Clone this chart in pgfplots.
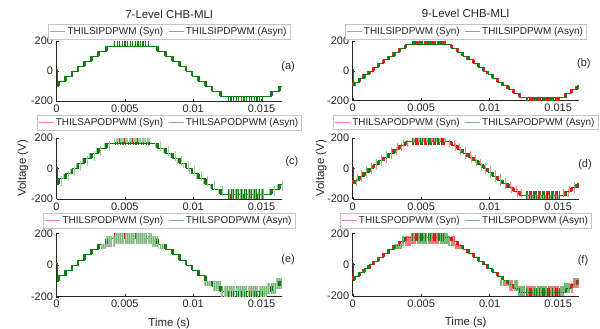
\documentclass[border=0pt]{standalone}
\usepackage{pgfplots}
\pgfplotsset{compat=1.18}
\usepackage{pgfplotstable}
\usepackage{fontspec}
\setmainfont{Liberation Sans}

\definecolor{mred}{RGB}{235,35,35}
\definecolor{mgreen}{RGB}{15,125,15}
\definecolor{axgray}{RGB}{38,38,38}

% ---------- 7-level data (time in ms, voltage in V) ----------
\pgfplotstableread{
t v
0 10
0.02 -100
0.16 -66.7
0.66 -33.3
1.14 0
1.58 33.3
2.06 66.7
2.56 100
3.06 133.3
3.66 166.7
7.39 133.3
7.99 100
8.49 66.7
8.99 33.3
9.47 0
9.91 -33.3
10.39 -66.7
10.89 -100
11.39 -133.3
11.99 -166.7
15.73 -133.3
16.33 -100
16.5 -100
}\Sseven
\pgfplotstableread{
t c
0.16 -83.3
0.66 -50
1.14 -16.7
1.58 16.7
2.06 50
2.56 83.3
3.06 116.7
3.66 150
7.39 150
7.99 116.7
8.49 83.3
8.99 50
9.47 16.7
9.91 -16.7
10.39 -50
10.89 -83.3
11.39 -116.7
11.99 -150
15.73 -150
16.33 -116.7
}\Tseven
\pgfplotstableread{
t c c2
4.25 183.3 166.7
4.44 183.3 166.7
4.63 183.3 166.7
4.82 183.3 166.7
5.01 183.3 166.7
5.20 183.3 166.7
5.39 183.3 166.7
5.58 183.3 166.7
5.77 183.3 166.7
5.96 183.3 166.7
6.15 183.3 166.7
6.34 183.3 166.7
6.53 183.3 166.7
6.72 183.3 166.7
}\PsevTop
\pgfplotstableread{
t c c2
12.58 -183.3 -166.7
12.77 -183.3 -166.7
12.96 -183.3 -166.7
13.15 -183.3 -166.7
13.34 -183.3 -166.7
13.53 -183.3 -166.7
13.72 -183.3 -166.7
13.91 -183.3 -166.7
14.10 -183.3 -166.7
14.29 -183.3 -166.7
14.48 -183.3 -166.7
14.67 -183.3 -166.7
14.86 -183.3 -166.7
15.05 -183.3 -166.7
}\PsevBot

% ---------- 9-level data ----------
\pgfplotstableread{
t v
0 10
0.02 -100
0.09 -75
0.47 -50
0.83 -25
1.19 0
1.53 25
1.89 50
2.25 75
2.63 100
3.01 125
3.41 150
3.83 175
7.22 150
7.64 125
8.04 100
8.42 75
8.80 50
9.16 25
9.52 0
9.86 -25
10.22 -50
10.58 -75
10.96 -100
11.34 -125
11.74 -150
12.16 -175
15.56 -150
15.98 -125
16.38 -100
16.5 -100
}\Snine
\pgfplotstableread{
t c
0.09 -87.5
0.47 -62.5
0.83 -37.5
1.19 -12.5
1.53 12.5
1.89 37.5
2.25 62.5
2.63 87.5
3.01 112.5
3.41 137.5
3.83 162.5
7.22 162.5
7.64 137.5
8.04 112.5
8.42 87.5
8.80 62.5
9.16 37.5
9.52 12.5
9.86 -12.5
10.22 -37.5
10.58 -62.5
10.96 -87.5
11.34 -112.5
11.74 -137.5
12.16 -162.5
15.56 -162.5
15.98 -137.5
16.38 -112.5
}\Tnine
\pgfplotstableread{
t c c2
4.36 187.5 175
4.55 187.5 175
4.74 187.5 175
4.93 187.5 175
5.12 187.5 175
5.31 187.5 175
5.50 187.5 175
5.69 187.5 175
5.88 187.5 175
6.07 187.5 175
6.26 187.5 175
6.45 187.5 175
6.64 187.5 175
}\PnTop
\pgfplotstableread{
t c c2
12.69 -187.5 -175
12.88 -187.5 -175
13.07 -187.5 -175
13.26 -187.5 -175
13.45 -187.5 -175
13.64 -187.5 -175
13.83 -187.5 -175
14.02 -187.5 -175
14.21 -187.5 -175
14.40 -187.5 -175
14.59 -187.5 -175
14.78 -187.5 -175
14.97 -187.5 -175
}\PnBot

% ---------- wide switching regions (POD schemes): one-level span ----------
\pgfplotstableread{
t c
3.00 116.7
3.16 116.7
3.32 116.7
3.48 116.7
7.48 116.7
7.64 116.7
7.80 116.7
10.80 -116.7
10.96 -116.7
11.12 -116.7
11.28 -116.7
}\XA
% ---------- two-level span ----------
\pgfplotstableread{
t c
3.64 150
3.80 150
3.96 150
4.12 150
4.28 166.7
4.44 166.7
4.60 166.7
4.76 166.7
4.92 166.7
5.08 166.7
5.24 166.7
5.40 166.7
5.56 166.7
5.72 166.7
5.88 166.7
6.04 166.7
6.20 166.7
6.36 166.7
6.52 166.7
6.68 166.7
6.84 166.7
7.00 150
7.16 150
7.32 150
11.44 -133.3
11.60 -133.3
11.76 -133.3
11.92 -133.3
12.08 -166.7
12.24 -166.7
12.40 -166.7
12.56 -166.7
12.72 -166.7
12.88 -166.7
13.04 -166.7
13.20 -166.7
13.36 -166.7
13.52 -166.7
13.68 -166.7
13.84 -166.7
14.00 -166.7
14.16 -166.7
14.32 -166.7
14.48 -166.7
14.64 -166.7
14.80 -166.7
14.96 -166.7
15.12 -166.7
15.28 -166.7
15.44 -150
15.60 -150
15.76 -150
15.92 -150
16.08 -116.7
16.24 -116.7
16.40 -116.7
}\XB

\newcommand{\stair}[2]{\addplot[#1, const plot, line width=0.45bp, forget plot] table[x=t,y=v] {#2};}
% vertical switching strokes: colour, width, time shift, half length (bp), table, y column
\newcommand{\vl}[6]{\addplot[only marks, mark=|, mark size=#4bp, mark options={draw=#1, line width=#2}, forget plot] table[x expr=\thisrow{t}#3, y=#6] {#5};}
\newcommand{\legpair}[1]{%
  \addlegendimage{legend image code/.code={\draw[mred!55, line width=0.5bp] (0bp,0bp) -- (15bp,0bp);}}\addlegendentry{#1 (Syn)}
  \addlegendimage{legend image code/.code={\draw[mgreen!55, line width=0.5bp] (0bp,0bp) -- (15bp,0bp);}}\addlegendentry{#1 (Asyn)}}

\pgfplotsset{
  panel/.style={
    scale only axis, width=225.5bp, clip mode=individual,
    xmin=0, xmax=16.5, ymin=-200, ymax=200,
    axis x line*=bottom, axis y line*=left,
    xtick={0,5,10,15}, xticklabels={0,0.005,0.01,0.015},
    ytick={-200,0,200}, yticklabels={-200,0,200},
    tick align=inside, major tick length=2.5bp,
    every tick/.style={axgray, line width=0.4bp},
    axis line style={axgray, line width=0.5bp},
    ticklabel style={font=\fontsize{11}{12}\selectfont, text=axgray},
    legend columns=2, legend cell align=left,
    legend style={anchor=south, draw=gray!45, line width=0.5bp,
      font=\fontsize{10}{11}\selectfont, text=axgray,
      inner xsep=1.5bp, inner ysep=0.8bp,
      /tikz/every even column/.append style={column sep=3bp}},
  },
}
\newcommand{\lab}[3]{\node[font=\fontsize{11}{12}\selectfont, text=axgray] at (axis description cs:#1,#2) {#3};}

\begin{document}
\begin{tikzpicture}
\useasboundingbox (0,0) rectangle (600bp,-329bp);

% ================= (a) =================
\begin{axis}[panel, height=60bp, at={(56.5bp,-101bp)}, anchor=south west,
  legend style={at={(0.5,1.033)}}]
\stair{mred}{\Sseven}
\vl{mred}{1.1bp}{-0.05}{2.5}{\Tseven}{c}
\vl{mred}{1.1bp}{+0.05}{2.5}{\Tseven}{c}
\vl{mred}{1.3bp}{+0}{2.5}{\PsevTop}{c}
\vl{mred}{1.3bp}{+0}{2.5}{\PsevBot}{c}
\stair{mgreen}{\Sseven}
\vl{mgreen}{1.1bp}{-0.05}{2.5}{\Tseven}{c}
\vl{mgreen}{1.1bp}{+0.05}{2.5}{\Tseven}{c}
\vl{mgreen}{1.3bp}{+0}{2.5}{\PsevTop}{c}
\vl{mgreen}{1.3bp}{+0}{2.5}{\PsevBot}{c}
\legpair{THILSIPDPWM}
\node[font=\fontsize{11.5}{13}\selectfont, text=axgray] at (axis description cs:0.5,1.45) {7-Level CHB-MLI};
\lab{1.027}{0.57}{(a)}
\end{axis}

% ================= (b) =================
\begin{axis}[panel, height=59.5bp, width=226bp, at={(352.7bp,-100.5bp)}, anchor=south west,
  legend style={at={(0.5,1.033)}}]
\stair{mred}{\Snine}
\vl{mred}{1.0bp}{-0.08}{1.86}{\Tnine}{c}
\vl{mred}{1.0bp}{+0.08}{1.86}{\Tnine}{c}
\vl{mred}{1.2bp}{+0.095}{1.86}{\PnTop}{c}
\vl{mred}{1.2bp}{+0.095}{1.86}{\PnBot}{c}
\stair{mgreen}{\Snine}
\vl{mgreen}{1.4bp}{+0}{1.86}{\Tnine}{c}
\vl{mgreen}{1.2bp}{+0}{1.86}{\PnTop}{c}
\vl{mgreen}{1.2bp}{+0}{1.86}{\PnBot}{c}
\legpair{THILSIPDPWM}
\node[font=\fontsize{11.5}{13}\selectfont, text=axgray] at (axis description cs:0.5,1.46) {9-Level CHB-MLI};
\lab{1.023}{0.62}{(b)}
\end{axis}

% ================= (c) =================
\begin{axis}[panel, height=61bp, at={(56.5bp,-199bp)}, anchor=south west,
  legend style={at={(0.5,1.13)}}]
\stair{mred}{\Sseven}
\vl{mred}{1.1bp}{-0.05}{2.54}{\Tseven}{c}
\vl{mred}{1.1bp}{+0.05}{2.54}{\Tseven}{c}
\vl{mred}{1.3bp}{+0}{2.54}{\PsevTop}{c}
\vl{mred}{1.3bp}{+0}{2.54}{\PsevBot}{c}
\stair{mgreen}{\Sseven}
\vl{mgreen!40}{0.5bp}{+0.17}{5.08}{\Tseven}{c}
\vl{mgreen!40}{0.5bp}{-0.17}{2.54}{\Tseven}{c}
\vl{mgreen}{1.1bp}{-0.05}{2.54}{\Tseven}{c}
\vl{mgreen}{1.1bp}{+0.05}{2.54}{\Tseven}{c}
\vl{mgreen!40}{0.5bp}{+0}{2.54}{\PsevTop}{c}
\vl{mgreen!40}{0.5bp}{+0.095}{2.54}{\PsevTop}{c}
\vl{mgreen}{1.2bp}{+0.05}{1.5}{\PsevTop}{c2}
\vl{mgreen!50}{0.5bp}{+0.095}{5.08}{\PsevBot}{c2}
\vl{mgreen}{1.0bp}{+0}{5.08}{\PsevBot}{c2}
\legpair{THILSAPODPWM}
\node[rotate=90, font=\fontsize{11.5}{13}\selectfont, text=axgray] at (axis description cs:-0.149,0.5) {Voltage (V)};
\lab{1.044}{0.62}{(c)}
\end{axis}

% ================= (d) =================
\begin{axis}[panel, height=61.3bp, width=226bp, at={(352.7bp,-199bp)}, anchor=south west,
  legend style={at={(0.5,1.13)}}]
\stair{mred}{\Snine}
\vl{mred!50}{0.5bp}{+0.17}{3.83}{\Tnine}{c}
\vl{mred}{1.0bp}{-0.08}{1.91}{\Tnine}{c}
\vl{mred}{1.0bp}{+0.08}{1.91}{\Tnine}{c}
\vl{mred!50}{0.5bp}{+0.14}{1.91}{\PnTop}{c}
\vl{mred!50}{0.5bp}{+0.14}{1.91}{\PnBot}{c}
\vl{mred}{1.0bp}{+0.095}{3.83}{\PnTop}{c2}
\vl{mred}{1.0bp}{+0.095}{3.83}{\PnBot}{c2}
\stair{mgreen}{\Snine}
\vl{mgreen!50}{0.5bp}{-0.17}{3.83}{\Tnine}{c}
\vl{mgreen}{1.4bp}{+0}{1.91}{\Tnine}{c}
\vl{mgreen!50}{0.5bp}{+0.05}{1.91}{\PnTop}{c}
\vl{mgreen!50}{0.5bp}{+0.05}{1.91}{\PnBot}{c}
\vl{mgreen}{1.0bp}{+0}{3.83}{\PnTop}{c2}
\vl{mgreen}{1.0bp}{+0}{3.83}{\PnBot}{c2}
\legpair{THILSAPODPWM}
\node[rotate=90, font=\fontsize{11.5}{13}\selectfont, text=axgray] at (axis description cs:-0.14,0.5) {Voltage (V)};
\lab{1.028}{0.565}{(d)}
\end{axis}

% ================= (e) =================
\begin{axis}[panel, height=63.4bp, at={(56.5bp,-296.7bp)}, anchor=south west,
  legend style={at={(0.5,1.083)}}]
\stair{mred}{\Sseven}
\vl{mred}{1.1bp}{-0.05}{2.64}{\Tseven}{c}
\vl{mred}{1.1bp}{+0.05}{2.64}{\Tseven}{c}
\vl{mred}{1.3bp}{+0}{2.64}{\PsevTop}{c}
\vl{mred}{1.3bp}{+0}{2.64}{\PsevBot}{c}
\stair{mgreen}{\Sseven}
\vl{mgreen!35}{0.5bp}{+0}{2.64}{\XA}{c}
\vl{mgreen!35}{0.5bp}{+0}{5.28}{\XB}{c}
\vl{mgreen!55}{0.5bp}{+0.08}{2.64}{\XA}{c}
\vl{mgreen!55}{0.5bp}{+0.08}{5.28}{\XB}{c}
\vl{mgreen}{1.1bp}{-0.05}{2.64}{\Tseven}{c}
\vl{mgreen}{1.1bp}{+0.05}{2.64}{\Tseven}{c}
\vl{mgreen}{1.0bp}{+0}{2.64}{\PsevBot}{c}
\legpair{THILSPODPWM}
\node[font=\fontsize{11.5}{13}\selectfont, text=axgray] at (axis description cs:0.5,-0.43) {Time (s)};
\lab{1.027}{0.58}{(e)}
\end{axis}

% ================= (f) =================
\begin{axis}[panel, height=62.7bp, width=226bp, at={(352.7bp,-296bp)}, anchor=south west,
  legend style={at={(0.5,1.083)}}]
\stair{mred}{\Snine}
\vl{mred!60}{0.5bp}{+0.08}{2.61}{\XA}{c}
\vl{mred!60}{0.5bp}{+0.08}{5.22}{\XB}{c}
\vl{mred}{1.0bp}{-0.08}{1.96}{\Tnine}{c}
\vl{mred}{1.0bp}{+0.08}{1.96}{\Tnine}{c}
\vl{mred}{1.0bp}{+0.095}{3.92}{\PnTop}{c2}
\vl{mred}{1.0bp}{+0.095}{3.92}{\PnBot}{c2}
\stair{mgreen}{\Snine}
\vl{mgreen!55}{0.5bp}{+0}{2.61}{\XA}{c}
\vl{mgreen!55}{0.5bp}{+0}{5.22}{\XB}{c}
\vl{mgreen}{1.4bp}{+0}{1.96}{\Tnine}{c}
\vl{mgreen}{1.0bp}{+0}{3.92}{\PnTop}{c2}
\vl{mgreen}{1.0bp}{+0}{3.92}{\PnBot}{c2}
\legpair{THILSPODPWM}
\node[font=\fontsize{11.5}{13}\selectfont, text=axgray] at (axis description cs:0.5,-0.43) {Time (s)};
\lab{1.019}{0.56}{(f)}
\end{axis}
\end{tikzpicture}
\end{document}
